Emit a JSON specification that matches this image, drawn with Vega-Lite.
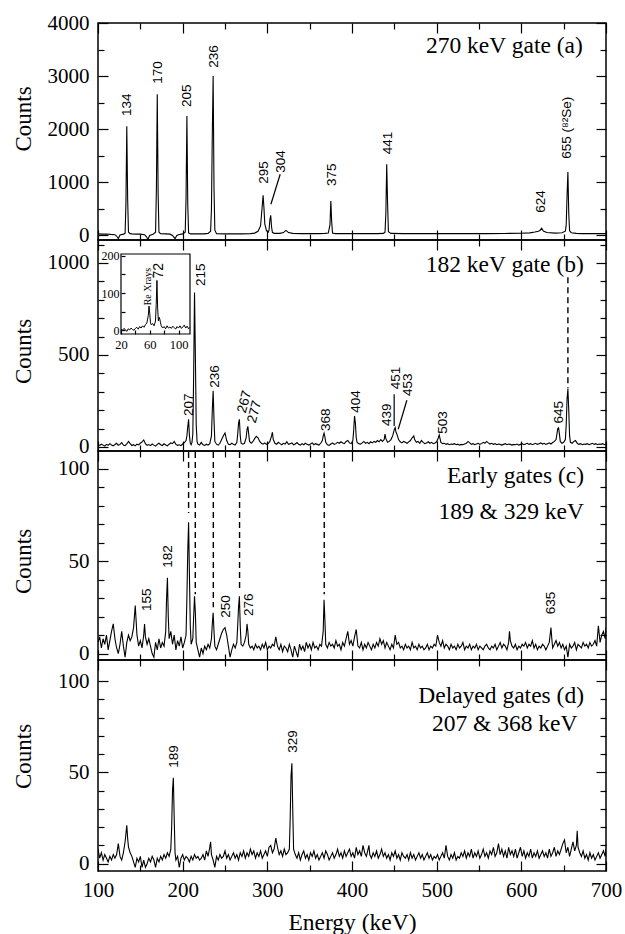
{
"$schema": "https://vega.github.io/schema/vega-lite/v6.json",
"background": "white",
"padding": {"left": 11, "top": 11, "right": 5, "bottom": 2},
"spacing": 0,
"bounds": "flush",
"config": {
  "font": "Liberation Serif, Times New Roman, serif",
  "view": {"stroke": "black", "strokeWidth": 1.5},
  "axis": {"grid": false, "domain": false, "format": "d", "labelFont": "Liberation Serif, Times New Roman, serif", "labelFontSize": 21, "labelColor": "black", "titleFont": "Liberation Serif, Times New Roman, serif", "titleFontSize": 23, "titleFontWeight": "normal", "titleColor": "black", "tickColor": "black", "tickWidth": 1.2, "labelFlush": false, "labelOverlap": false},
  "text": {"color": "black"},
  "line": {"color": "black"},
  "rule": {"color": "black"}
},
"datasets": {
  "a": [{"e":100,"c":30},{"e":105,"c":25},{"e":110,"c":28},{"e":115,"c":20},{"e":120,"c":15},{"e":122,"c":-10},{"e":124,"c":-60},{"e":126,"c":10},{"e":130,"c":25},{"e":132,"c":40},{"e":133,"c":600},{"e":134,"c":2055},{"e":135,"c":700},{"e":136,"c":60},{"e":138,"c":35},{"e":140,"c":30},{"e":145,"c":25},{"e":150,"c":25},{"e":155,"c":15},{"e":157,"c":-20},{"e":159,"c":-70},{"e":161,"c":0},{"e":165,"c":25},{"e":168,"c":60},{"e":169,"c":900},{"e":170,"c":2660},{"e":171,"c":800},{"e":172,"c":60},{"e":174,"c":35},{"e":180,"c":30},{"e":185,"c":25},{"e":188,"c":0},{"e":191,"c":-60},{"e":193,"c":0},{"e":196,"c":20},{"e":200,"c":30},{"e":203,"c":60},{"e":204,"c":700},{"e":205,"c":2250},{"e":206,"c":600},{"e":207,"c":50},{"e":209,"c":30},{"e":215,"c":30},{"e":220,"c":30},{"e":225,"c":30},{"e":230,"c":40},{"e":233,"c":80},{"e":234,"c":500},{"e":235,"c":1900},{"e":236,"c":3000},{"e":237,"c":900},{"e":238,"c":100},{"e":240,"c":35},{"e":250,"c":30},{"e":260,"c":30},{"e":270,"c":30},{"e":280,"c":35},{"e":285,"c":45},{"e":289,"c":80},{"e":292,"c":180},{"e":294,"c":560},{"e":295,"c":757},{"e":296,"c":520},{"e":297,"c":220},{"e":299,"c":90},{"e":301,"c":60},{"e":302,"c":100},{"e":303,"c":290},{"e":304,"c":380},{"e":305,"c":160},{"e":306,"c":60},{"e":308,"c":40},{"e":315,"c":40},{"e":319,"c":55},{"e":322,"c":95},{"e":325,"c":55},{"e":330,"c":40},{"e":340,"c":35},{"e":350,"c":35},{"e":360,"c":35},{"e":368,"c":40},{"e":372,"c":45},{"e":374,"c":200},{"e":375,"c":649},{"e":376,"c":260},{"e":377,"c":45},{"e":380,"c":35},{"e":390,"c":35},{"e":400,"c":35},{"e":410,"c":35},{"e":420,"c":35},{"e":430,"c":35},{"e":437,"c":40},{"e":439,"c":60},{"e":440,"c":420},{"e":441,"c":1340},{"e":442,"c":620},{"e":443,"c":70},{"e":446,"c":40},{"e":460,"c":35},{"e":480,"c":35},{"e":500,"c":35},{"e":520,"c":35},{"e":540,"c":35},{"e":560,"c":35},{"e":580,"c":38},{"e":600,"c":42},{"e":610,"c":50},{"e":616,"c":65},{"e":620,"c":80},{"e":622,"c":95},{"e":624,"c":135},{"e":626,"c":85},{"e":630,"c":55},{"e":640,"c":45},{"e":648,"c":50},{"e":652,"c":80},{"e":653,"c":200},{"e":654,"c":750},{"e":655,"c":1195},{"e":656,"c":420},{"e":657,"c":90},{"e":659,"c":50},{"e":665,"c":40},{"e":670,"c":35},{"e":680,"c":35},{"e":690,"c":35},{"e":700,"c":35}],
  "labA": [{"e":134.2,"c":2249,"t":"134"},{"e":170.5,"c":2857,"t":"170"},{"e":205,"c":2419,"t":"205"},{"e":236.6,"c":3159,"t":"236"},{"e":296.4,"c":975,"t":"295"},{"e":316,"c":1182,"t":"304"},{"e":375.9,"c":932,"t":"375"},{"e":442,"c":1528,"t":"441"},{"e":623.8,"c":429,"t":"624"},{"e":654.5,"c":1446,"t":"655 (⁸²Se)"}],
  "ruleA": [{"e":315.2,"c":1152,"e2":304.2,"c2":587}],
  "b": [{"e":100,"c":12},{"e":102,"c":8},{"e":104,"c":15},{"e":106,"c":10},{"e":108,"c":5},{"e":110,"c":14},{"e":112,"c":9},{"e":114,"c":18},{"e":116,"c":11},{"e":118,"c":6},{"e":120,"c":13},{"e":122,"c":20},{"e":124,"c":9},{"e":126,"c":14},{"e":128,"c":24},{"e":130,"c":10},{"e":132,"c":7},{"e":134,"c":16},{"e":136,"c":30},{"e":138,"c":18},{"e":140,"c":8},{"e":142,"c":12},{"e":144,"c":6},{"e":146,"c":15},{"e":148,"c":11},{"e":150,"c":20},{"e":152,"c":28},{"e":154,"c":38},{"e":156,"c":18},{"e":158,"c":9},{"e":160,"c":13},{"e":162,"c":7},{"e":164,"c":16},{"e":166,"c":10},{"e":168,"c":5},{"e":170,"c":14},{"e":172,"c":20},{"e":174,"c":12},{"e":176,"c":8},{"e":178,"c":17},{"e":180,"c":11},{"e":182,"c":6},{"e":184,"c":15},{"e":186,"c":22},{"e":188,"c":18},{"e":190,"c":30},{"e":192,"c":14},{"e":194,"c":9},{"e":196,"c":12},{"e":198,"c":7},{"e":200,"c":16},{"e":202,"c":24},{"e":204,"c":35},{"e":205,"c":60},{"e":206,"c":110},{"e":207,"c":150},{"e":208,"c":60},{"e":209,"c":20},{"e":210,"c":12},{"e":211,"c":25},{"e":212,"c":70},{"e":213,"c":400},{"e":214,"c":840},{"e":215,"c":500},{"e":216,"c":120},{"e":217,"c":30},{"e":218,"c":15},{"e":220,"c":10},{"e":222,"c":25},{"e":224,"c":12},{"e":226,"c":8},{"e":228,"c":15},{"e":230,"c":10},{"e":232,"c":18},{"e":234,"c":60},{"e":235,"c":200},{"e":236,"c":305},{"e":237,"c":150},{"e":238,"c":30},{"e":240,"c":15},{"e":242,"c":10},{"e":244,"c":20},{"e":246,"c":40},{"e":248,"c":60},{"e":250,"c":76},{"e":252,"c":35},{"e":254,"c":15},{"e":256,"c":12},{"e":258,"c":20},{"e":260,"c":14},{"e":262,"c":10},{"e":264,"c":25},{"e":265,"c":70},{"e":266,"c":130},{"e":267,"c":150},{"e":268,"c":60},{"e":269,"c":20},{"e":271,"c":15},{"e":273,"c":20},{"e":275,"c":50},{"e":276,"c":95},{"e":277,"c":112},{"e":278,"c":70},{"e":279,"c":30},{"e":281,"c":20},{"e":283,"c":30},{"e":285,"c":45},{"e":287,"c":58},{"e":289,"c":50},{"e":291,"c":30},{"e":293,"c":20},{"e":295,"c":15},{"e":297,"c":22},{"e":299,"c":14},{"e":301,"c":18},{"e":303,"c":30},{"e":305,"c":60},{"e":306,"c":80},{"e":307,"c":40},{"e":309,"c":20},{"e":311,"c":15},{"e":313,"c":25},{"e":315,"c":18},{"e":317,"c":12},{"e":319,"c":20},{"e":321,"c":16},{"e":323,"c":28},{"e":325,"c":14},{"e":327,"c":18},{"e":329,"c":22},{"e":331,"c":12},{"e":333,"c":16},{"e":335,"c":24},{"e":337,"c":14},{"e":339,"c":10},{"e":341,"c":18},{"e":343,"c":12},{"e":345,"c":20},{"e":347,"c":14},{"e":349,"c":10},{"e":351,"c":16},{"e":353,"c":22},{"e":355,"c":12},{"e":357,"c":18},{"e":359,"c":14},{"e":361,"c":10},{"e":363,"c":20},{"e":365,"c":35},{"e":366,"c":60},{"e":367,"c":75},{"e":368,"c":55},{"e":369,"c":25},{"e":371,"c":12},{"e":373,"c":8},{"e":375,"c":16},{"e":377,"c":22},{"e":379,"c":14},{"e":381,"c":18},{"e":383,"c":25},{"e":385,"c":20},{"e":387,"c":28},{"e":389,"c":22},{"e":391,"c":18},{"e":393,"c":30},{"e":395,"c":35},{"e":397,"c":22},{"e":399,"c":18},{"e":401,"c":35},{"e":402,"c":90},{"e":403,"c":168},{"e":404,"c":130},{"e":405,"c":50},{"e":406,"c":25},{"e":408,"c":18},{"e":410,"c":15},{"e":412,"c":22},{"e":414,"c":30},{"e":416,"c":20},{"e":418,"c":25},{"e":420,"c":18},{"e":422,"c":28},{"e":424,"c":22},{"e":426,"c":30},{"e":428,"c":25},{"e":430,"c":35},{"e":432,"c":28},{"e":434,"c":40},{"e":436,"c":30},{"e":438,"c":40},{"e":439,"c":70},{"e":440,"c":45},{"e":442,"c":25},{"e":444,"c":30},{"e":446,"c":40},{"e":448,"c":60},{"e":450,"c":95},{"e":451,"c":105},{"e":452,"c":80},{"e":453,"c":70},{"e":454,"c":55},{"e":455,"c":40},{"e":457,"c":28},{"e":459,"c":22},{"e":461,"c":30},{"e":463,"c":25},{"e":465,"c":20},{"e":467,"c":28},{"e":469,"c":35},{"e":471,"c":50},{"e":473,"c":60},{"e":474,"c":40},{"e":476,"c":25},{"e":478,"c":30},{"e":480,"c":20},{"e":482,"c":35},{"e":484,"c":25},{"e":486,"c":18},{"e":488,"c":22},{"e":490,"c":28},{"e":492,"c":20},{"e":494,"c":25},{"e":496,"c":18},{"e":498,"c":22},{"e":500,"c":28},{"e":502,"c":50},{"e":503,"c":65},{"e":504,"c":45},{"e":505,"c":25},{"e":507,"c":18},{"e":509,"c":20},{"e":511,"c":14},{"e":513,"c":18},{"e":515,"c":12},{"e":517,"c":16},{"e":519,"c":14},{"e":521,"c":18},{"e":523,"c":12},{"e":525,"c":15},{"e":527,"c":10},{"e":529,"c":14},{"e":531,"c":12},{"e":533,"c":16},{"e":535,"c":20},{"e":537,"c":30},{"e":539,"c":22},{"e":541,"c":14},{"e":543,"c":18},{"e":545,"c":12},{"e":547,"c":16},{"e":549,"c":20},{"e":551,"c":14},{"e":553,"c":18},{"e":555,"c":25},{"e":557,"c":20},{"e":559,"c":30},{"e":561,"c":22},{"e":563,"c":16},{"e":565,"c":20},{"e":567,"c":14},{"e":569,"c":18},{"e":571,"c":12},{"e":573,"c":16},{"e":575,"c":14},{"e":577,"c":10},{"e":579,"c":14},{"e":581,"c":18},{"e":583,"c":12},{"e":585,"c":16},{"e":587,"c":14},{"e":589,"c":10},{"e":591,"c":14},{"e":593,"c":12},{"e":595,"c":16},{"e":597,"c":10},{"e":599,"c":14},{"e":601,"c":18},{"e":603,"c":12},{"e":605,"c":16},{"e":607,"c":20},{"e":609,"c":14},{"e":611,"c":18},{"e":613,"c":12},{"e":615,"c":16},{"e":617,"c":20},{"e":619,"c":14},{"e":621,"c":18},{"e":623,"c":22},{"e":625,"c":16},{"e":627,"c":20},{"e":629,"c":14},{"e":631,"c":18},{"e":633,"c":22},{"e":635,"c":16},{"e":637,"c":24},{"e":639,"c":30},{"e":641,"c":40},{"e":642,"c":70},{"e":643,"c":100},{"e":644,"c":104},{"e":645,"c":70},{"e":646,"c":30},{"e":648,"c":20},{"e":650,"c":25},{"e":652,"c":40},{"e":653,"c":120},{"e":654,"c":260},{"e":655,"c":315},{"e":656,"c":200},{"e":657,"c":60},{"e":658,"c":25},{"e":660,"c":20},{"e":662,"c":30},{"e":664,"c":35},{"e":666,"c":20},{"e":668,"c":14},{"e":670,"c":18},{"e":672,"c":12},{"e":674,"c":16},{"e":676,"c":14},{"e":678,"c":18},{"e":680,"c":12},{"e":682,"c":16},{"e":684,"c":20},{"e":686,"c":14},{"e":688,"c":18},{"e":690,"c":12},{"e":692,"c":16},{"e":694,"c":14},{"e":696,"c":18},{"e":698,"c":12},{"e":700,"c":16}],
  "labB": [{"e":207,"c":168,"t":"207"},{"e":221.6,"c":875,"t":"215"},{"e":238.5,"c":322,"t":"236"},{"e":369,"c":87,"t":"368"},{"e":404.6,"c":186,"t":"404"},{"e":441.2,"c":114,"t":"439"},{"e":451.8,"c":313,"t":"451"},{"e":466.3,"c":277,"t":"453"},{"e":507,"c":72,"t":"503"},{"e":644.6,"c":127,"t":"645"}],
  "labB2": [{"e":269.6,"c":186,"t":"267"},{"e":281.4,"c":132,"t":"277"}],
  "ruleB": [{"e":449.8,"c":286,"e2":449.8,"c2":114},{"e":464.8,"c":254,"e2":454.6,"c2":96}],
  "dashB": [{"e":655,"c":922,"c2":318}],
  "ins": [{"e":20,"c":3},{"e":22,"c":0},{"e":24,"c":5},{"e":26,"c":2},{"e":28,"c":-3},{"e":30,"c":4},{"e":32,"c":1},{"e":34,"c":6},{"e":36,"c":2},{"e":38,"c":0},{"e":40,"c":5},{"e":42,"c":8},{"e":44,"c":3},{"e":46,"c":10},{"e":48,"c":6},{"e":50,"c":12},{"e":52,"c":8},{"e":54,"c":15},{"e":56,"c":20},{"e":57,"c":30},{"e":58,"c":40},{"e":59,"c":65},{"e":60,"c":45},{"e":61,"c":20},{"e":62,"c":15},{"e":64,"c":18},{"e":66,"c":12},{"e":68,"c":25},{"e":69,"c":70},{"e":70,"c":134},{"e":71,"c":60},{"e":72,"c":25},{"e":73,"c":35},{"e":74,"c":30},{"e":75,"c":20},{"e":76,"c":12},{"e":78,"c":6},{"e":80,"c":10},{"e":82,"c":4},{"e":84,"c":12},{"e":86,"c":6},{"e":88,"c":9},{"e":90,"c":5},{"e":92,"c":11},{"e":94,"c":7},{"e":96,"c":3},{"e":98,"c":10},{"e":100,"c":6},{"e":102,"c":12},{"e":104,"c":5},{"e":106,"c":9},{"e":108,"c":14},{"e":110,"c":6},{"e":112,"c":11},{"e":114,"c":4},{"e":116,"c":8}],
  "c": [{"e":100,"c":6},{"e":102,"c":9},{"e":104,"c":3},{"e":106,"c":8},{"e":108,"c":5},{"e":110,"c":10},{"e":112,"c":2},{"e":114,"c":7},{"e":116,"c":12},{"e":118,"c":16},{"e":120,"c":8},{"e":122,"c":3},{"e":124,"c":0},{"e":126,"c":5},{"e":128,"c":12},{"e":130,"c":4},{"e":132,"c":-2},{"e":134,"c":6},{"e":136,"c":10},{"e":138,"c":7},{"e":140,"c":9},{"e":142,"c":14},{"e":144,"c":26},{"e":146,"c":10},{"e":148,"c":4},{"e":150,"c":7},{"e":152,"c":3},{"e":154,"c":10},{"e":155,"c":16},{"e":156,"c":9},{"e":158,"c":5},{"e":160,"c":8},{"e":162,"c":4},{"e":164,"c":0},{"e":166,"c":-2},{"e":168,"c":6},{"e":170,"c":2},{"e":172,"c":8},{"e":174,"c":3},{"e":176,"c":6},{"e":178,"c":4},{"e":180,"c":12},{"e":181,"c":30},{"e":182,"c":41},{"e":183,"c":20},{"e":184,"c":8},{"e":186,"c":12},{"e":188,"c":5},{"e":190,"c":10},{"e":192,"c":2},{"e":194,"c":7},{"e":196,"c":4},{"e":198,"c":9},{"e":200,"c":3},{"e":202,"c":6},{"e":204,"c":10},{"e":205,"c":30},{"e":206,"c":55},{"e":207,"c":71},{"e":208,"c":42},{"e":209,"c":15},{"e":210,"c":5},{"e":212,"c":8},{"e":213,"c":20},{"e":214,"c":31},{"e":215,"c":22},{"e":216,"c":6},{"e":218,"c":2},{"e":220,"c":-2},{"e":222,"c":3},{"e":224,"c":0},{"e":226,"c":4},{"e":228,"c":2},{"e":230,"c":5},{"e":232,"c":3},{"e":234,"c":8},{"e":235,"c":16},{"e":236,"c":22},{"e":237,"c":12},{"e":238,"c":4},{"e":240,"c":2},{"e":242,"c":5},{"e":244,"c":8},{"e":246,"c":11},{"e":248,"c":13},{"e":250,"c":14},{"e":252,"c":10},{"e":254,"c":4},{"e":256,"c":-2},{"e":258,"c":2},{"e":260,"c":5},{"e":262,"c":3},{"e":264,"c":6},{"e":265,"c":15},{"e":266,"c":25},{"e":267,"c":31},{"e":268,"c":15},{"e":269,"c":5},{"e":271,"c":4},{"e":273,"c":6},{"e":275,"c":10},{"e":276,"c":16},{"e":277,"c":12},{"e":278,"c":5},{"e":280,"c":3},{"e":282,"c":4},{"e":284,"c":2},{"e":286,"c":5},{"e":288,"c":3},{"e":290,"c":4},{"e":292,"c":2},{"e":294,"c":5},{"e":296,"c":3},{"e":298,"c":6},{"e":300,"c":2},{"e":302,"c":4},{"e":304,"c":3},{"e":306,"c":5},{"e":308,"c":4},{"e":310,"c":9},{"e":312,"c":4},{"e":314,"c":2},{"e":316,"c":5},{"e":318,"c":1},{"e":320,"c":4},{"e":322,"c":3},{"e":324,"c":1},{"e":326,"c":5},{"e":328,"c":2},{"e":330,"c":-2},{"e":332,"c":4},{"e":334,"c":1},{"e":336,"c":-2},{"e":338,"c":5},{"e":340,"c":2},{"e":342,"c":4},{"e":344,"c":1},{"e":346,"c":6},{"e":348,"c":3},{"e":350,"c":5},{"e":352,"c":2},{"e":354,"c":6},{"e":356,"c":3},{"e":358,"c":4},{"e":360,"c":2},{"e":362,"c":5},{"e":364,"c":4},{"e":366,"c":12},{"e":367,"c":29},{"e":368,"c":18},{"e":369,"c":5},{"e":371,"c":3},{"e":373,"c":6},{"e":375,"c":4},{"e":377,"c":5},{"e":379,"c":3},{"e":381,"c":7},{"e":383,"c":4},{"e":385,"c":5},{"e":387,"c":2},{"e":389,"c":6},{"e":391,"c":4},{"e":393,"c":8},{"e":395,"c":12},{"e":397,"c":5},{"e":399,"c":7},{"e":401,"c":4},{"e":403,"c":9},{"e":405,"c":13},{"e":407,"c":4},{"e":409,"c":3},{"e":411,"c":6},{"e":413,"c":2},{"e":415,"c":5},{"e":417,"c":3},{"e":419,"c":6},{"e":421,"c":4},{"e":423,"c":2},{"e":425,"c":5},{"e":427,"c":3},{"e":429,"c":6},{"e":431,"c":4},{"e":433,"c":8},{"e":435,"c":5},{"e":437,"c":7},{"e":439,"c":3},{"e":441,"c":6},{"e":443,"c":4},{"e":445,"c":2},{"e":447,"c":5},{"e":449,"c":3},{"e":451,"c":10},{"e":453,"c":5},{"e":455,"c":6},{"e":457,"c":3},{"e":459,"c":4},{"e":461,"c":2},{"e":463,"c":5},{"e":465,"c":3},{"e":467,"c":4},{"e":469,"c":2},{"e":471,"c":6},{"e":473,"c":3},{"e":475,"c":4},{"e":477,"c":2},{"e":479,"c":5},{"e":481,"c":3},{"e":483,"c":4},{"e":485,"c":2},{"e":487,"c":3},{"e":489,"c":5},{"e":491,"c":2},{"e":493,"c":4},{"e":495,"c":3},{"e":497,"c":5},{"e":499,"c":4},{"e":501,"c":10},{"e":503,"c":6},{"e":505,"c":4},{"e":507,"c":7},{"e":509,"c":3},{"e":511,"c":5},{"e":513,"c":4},{"e":515,"c":2},{"e":517,"c":5},{"e":519,"c":3},{"e":521,"c":4},{"e":523,"c":2},{"e":525,"c":5},{"e":527,"c":3},{"e":529,"c":4},{"e":531,"c":6},{"e":533,"c":2},{"e":535,"c":4},{"e":537,"c":3},{"e":539,"c":5},{"e":541,"c":2},{"e":543,"c":4},{"e":545,"c":3},{"e":547,"c":5},{"e":549,"c":2},{"e":551,"c":4},{"e":553,"c":3},{"e":555,"c":2},{"e":557,"c":4},{"e":559,"c":5},{"e":561,"c":3},{"e":563,"c":2},{"e":565,"c":4},{"e":567,"c":3},{"e":569,"c":5},{"e":571,"c":2},{"e":573,"c":4},{"e":575,"c":6},{"e":577,"c":3},{"e":579,"c":5},{"e":581,"c":4},{"e":583,"c":2},{"e":585,"c":6},{"e":586,"c":12},{"e":587,"c":7},{"e":589,"c":4},{"e":591,"c":3},{"e":593,"c":5},{"e":595,"c":2},{"e":597,"c":4},{"e":599,"c":3},{"e":601,"c":5},{"e":603,"c":4},{"e":605,"c":6},{"e":607,"c":3},{"e":609,"c":5},{"e":611,"c":4},{"e":613,"c":7},{"e":615,"c":3},{"e":617,"c":5},{"e":619,"c":2},{"e":621,"c":4},{"e":623,"c":3},{"e":625,"c":5},{"e":627,"c":4},{"e":629,"c":2},{"e":631,"c":4},{"e":633,"c":6},{"e":635,"c":14},{"e":636,"c":8},{"e":637,"c":3},{"e":639,"c":5},{"e":641,"c":7},{"e":643,"c":4},{"e":645,"c":6},{"e":647,"c":3},{"e":649,"c":5},{"e":651,"c":2},{"e":653,"c":4},{"e":655,"c":-2},{"e":657,"c":5},{"e":659,"c":3},{"e":661,"c":4},{"e":663,"c":6},{"e":665,"c":2},{"e":667,"c":5},{"e":669,"c":4},{"e":671,"c":3},{"e":673,"c":6},{"e":675,"c":4},{"e":677,"c":5},{"e":679,"c":3},{"e":681,"c":6},{"e":683,"c":4},{"e":685,"c":5},{"e":687,"c":7},{"e":689,"c":4},{"e":691,"c":15},{"e":693,"c":6},{"e":695,"c":10},{"e":697,"c":12},{"e":699,"c":8},{"e":700,"c":14}],
  "labC": [{"e":158,"c":23,"t":"155"},{"e":182.2,"c":46.4,"t":"182"},{"e":251,"c":19.4,"t":"250"},{"e":278.6,"c":20.3,"t":"276"},{"e":635.6,"c":21.2,"t":"635"}],
  "dashC": [{"e":207,"c":109,"c2":76},{"e":214.9,"c":109,"c2":32},{"e":236.2,"c":109,"c2":25},{"e":267.2,"c":109,"c2":34},{"e":367.2,"c":109,"c2":32}],
  "d": [{"e":100,"c":8},{"e":102,"c":3},{"e":104,"c":6},{"e":106,"c":2},{"e":108,"c":5},{"e":110,"c":3},{"e":112,"c":1},{"e":114,"c":4},{"e":116,"c":2},{"e":118,"c":5},{"e":120,"c":3},{"e":122,"c":5},{"e":124,"c":11},{"e":126,"c":4},{"e":128,"c":2},{"e":130,"c":6},{"e":132,"c":12},{"e":134,"c":21},{"e":135,"c":14},{"e":136,"c":9},{"e":138,"c":6},{"e":140,"c":4},{"e":142,"c":1},{"e":144,"c":-2},{"e":146,"c":3},{"e":148,"c":1},{"e":150,"c":4},{"e":152,"c":-2},{"e":154,"c":2},{"e":156,"c":-2},{"e":158,"c":0},{"e":160,"c":3},{"e":162,"c":1},{"e":164,"c":4},{"e":166,"c":2},{"e":168,"c":-2},{"e":170,"c":3},{"e":172,"c":1},{"e":174,"c":4},{"e":176,"c":2},{"e":178,"c":5},{"e":180,"c":3},{"e":182,"c":6},{"e":184,"c":4},{"e":186,"c":8},{"e":187,"c":20},{"e":188,"c":40},{"e":189,"c":47},{"e":190,"c":25},{"e":191,"c":6},{"e":192,"c":2},{"e":194,"c":4},{"e":196,"c":-2},{"e":198,"c":3},{"e":200,"c":5},{"e":202,"c":2},{"e":204,"c":4},{"e":206,"c":3},{"e":208,"c":1},{"e":210,"c":4},{"e":212,"c":2},{"e":214,"c":5},{"e":216,"c":3},{"e":218,"c":4},{"e":220,"c":2},{"e":222,"c":3},{"e":224,"c":5},{"e":226,"c":2},{"e":228,"c":7},{"e":230,"c":4},{"e":232,"c":9},{"e":233,"c":12},{"e":234,"c":5},{"e":236,"c":2},{"e":238,"c":-2},{"e":240,"c":4},{"e":242,"c":2},{"e":244,"c":5},{"e":246,"c":3},{"e":248,"c":4},{"e":250,"c":7},{"e":252,"c":3},{"e":254,"c":5},{"e":256,"c":2},{"e":258,"c":4},{"e":260,"c":6},{"e":262,"c":3},{"e":264,"c":5},{"e":266,"c":2},{"e":268,"c":6},{"e":270,"c":4},{"e":272,"c":7},{"e":274,"c":3},{"e":276,"c":6},{"e":278,"c":4},{"e":280,"c":8},{"e":282,"c":5},{"e":284,"c":7},{"e":286,"c":3},{"e":288,"c":6},{"e":290,"c":4},{"e":292,"c":7},{"e":294,"c":3},{"e":296,"c":5},{"e":298,"c":7},{"e":300,"c":4},{"e":302,"c":9},{"e":304,"c":10},{"e":306,"c":6},{"e":308,"c":8},{"e":310,"c":14},{"e":312,"c":9},{"e":314,"c":5},{"e":316,"c":7},{"e":318,"c":4},{"e":320,"c":8},{"e":322,"c":5},{"e":324,"c":6},{"e":326,"c":8},{"e":327,"c":25},{"e":328,"c":48},{"e":329,"c":55},{"e":330,"c":30},{"e":331,"c":8},{"e":333,"c":5},{"e":335,"c":3},{"e":337,"c":6},{"e":339,"c":2},{"e":341,"c":5},{"e":343,"c":7},{"e":345,"c":3},{"e":347,"c":5},{"e":349,"c":2},{"e":351,"c":6},{"e":353,"c":4},{"e":355,"c":7},{"e":357,"c":3},{"e":359,"c":5},{"e":361,"c":2},{"e":363,"c":4},{"e":365,"c":6},{"e":367,"c":3},{"e":369,"c":7},{"e":371,"c":5},{"e":373,"c":2},{"e":375,"c":4},{"e":377,"c":6},{"e":379,"c":3},{"e":381,"c":5},{"e":383,"c":8},{"e":385,"c":4},{"e":387,"c":6},{"e":389,"c":3},{"e":391,"c":7},{"e":393,"c":4},{"e":395,"c":6},{"e":397,"c":8},{"e":399,"c":4},{"e":401,"c":6},{"e":403,"c":3},{"e":405,"c":9},{"e":407,"c":5},{"e":409,"c":7},{"e":411,"c":4},{"e":413,"c":10},{"e":415,"c":6},{"e":417,"c":4},{"e":419,"c":8},{"e":420,"c":10},{"e":421,"c":5},{"e":423,"c":3},{"e":425,"c":6},{"e":427,"c":4},{"e":429,"c":7},{"e":431,"c":3},{"e":433,"c":5},{"e":435,"c":8},{"e":437,"c":4},{"e":439,"c":6},{"e":441,"c":3},{"e":443,"c":5},{"e":445,"c":2},{"e":447,"c":6},{"e":449,"c":4},{"e":451,"c":7},{"e":453,"c":3},{"e":455,"c":5},{"e":457,"c":2},{"e":459,"c":6},{"e":461,"c":4},{"e":463,"c":3},{"e":465,"c":5},{"e":467,"c":2},{"e":469,"c":6},{"e":471,"c":3},{"e":473,"c":5},{"e":475,"c":2},{"e":477,"c":4},{"e":479,"c":6},{"e":481,"c":3},{"e":483,"c":5},{"e":485,"c":2},{"e":487,"c":4},{"e":489,"c":6},{"e":491,"c":3},{"e":493,"c":5},{"e":495,"c":2},{"e":497,"c":4},{"e":499,"c":3},{"e":501,"c":5},{"e":503,"c":2},{"e":505,"c":4},{"e":507,"c":6},{"e":509,"c":3},{"e":511,"c":10},{"e":513,"c":4},{"e":515,"c":2},{"e":517,"c":5},{"e":519,"c":3},{"e":521,"c":6},{"e":523,"c":2},{"e":525,"c":4},{"e":527,"c":3},{"e":529,"c":6},{"e":531,"c":4},{"e":533,"c":7},{"e":535,"c":3},{"e":537,"c":6},{"e":539,"c":4},{"e":541,"c":8},{"e":543,"c":3},{"e":545,"c":6},{"e":547,"c":4},{"e":549,"c":7},{"e":551,"c":3},{"e":553,"c":5},{"e":555,"c":8},{"e":557,"c":4},{"e":559,"c":6},{"e":561,"c":3},{"e":563,"c":7},{"e":565,"c":5},{"e":567,"c":9},{"e":569,"c":4},{"e":571,"c":6},{"e":573,"c":11},{"e":575,"c":5},{"e":577,"c":8},{"e":579,"c":4},{"e":581,"c":7},{"e":583,"c":3},{"e":585,"c":9},{"e":587,"c":5},{"e":589,"c":7},{"e":591,"c":4},{"e":593,"c":8},{"e":595,"c":3},{"e":597,"c":6},{"e":599,"c":9},{"e":601,"c":4},{"e":603,"c":7},{"e":605,"c":3},{"e":607,"c":6},{"e":609,"c":4},{"e":611,"c":8},{"e":613,"c":3},{"e":615,"c":6},{"e":617,"c":4},{"e":619,"c":7},{"e":621,"c":3},{"e":623,"c":5},{"e":625,"c":7},{"e":627,"c":4},{"e":629,"c":6},{"e":631,"c":3},{"e":633,"c":8},{"e":635,"c":4},{"e":637,"c":6},{"e":639,"c":9},{"e":641,"c":4},{"e":643,"c":7},{"e":645,"c":5},{"e":647,"c":8},{"e":649,"c":11},{"e":651,"c":13},{"e":653,"c":6},{"e":655,"c":9},{"e":657,"c":4},{"e":659,"c":8},{"e":661,"c":12},{"e":663,"c":7},{"e":665,"c":10},{"e":666,"c":18},{"e":667,"c":9},{"e":669,"c":6},{"e":671,"c":4},{"e":673,"c":7},{"e":675,"c":3},{"e":677,"c":5},{"e":679,"c":2},{"e":681,"c":6},{"e":683,"c":3},{"e":685,"c":5},{"e":687,"c":2},{"e":689,"c":4},{"e":691,"c":6},{"e":693,"c":3},{"e":695,"c":5},{"e":697,"c":7},{"e":699,"c":4},{"e":700,"c":8}],
  "labD": [{"e":190,"c":52.5,"t":"189"},{"e":329.9,"c":60.7,"t":"329"}]
},
"vconcat": [
  {
    "width": 508, "height": 217,
    "resolve": {"axis": {"x": "independent", "y": "independent"}},
    "layer": [
      {"data": {"name": "a"}, "mark": {"type": "line", "strokeWidth": 1.1, "clip": true},
       "encoding": {
         "x": {"field": "e", "type": "quantitative", "scale": {"domain": [100,700], "nice": false, "zero": false}, "axis": {"orient": "bottom", "values": [100,200,300,400,500,600,700], "tickSize": -10, "labels": false, "title": null}},
         "y": {"field": "c", "type": "quantitative", "scale": {"domain": [-85,4000], "nice": false, "zero": false}, "axis": {"orient": "left", "values": [0,1000,2000,3000,4000], "tickSize": -10, "labelPadding": 19, "title": "Counts", "titleX": -74.5, "titleY": 95.5, "titleBaseline": "middle"}}
       }},
      {"data": {"name": "labA"}, "mark": {"type": "text", "angle": 270, "align": "left", "baseline": "middle", "font": "Liberation Sans", "fontSize": 13.5},
       "encoding": {
         "x": {"field": "e", "type": "quantitative", "scale": {"domain": [100,700], "nice": false, "zero": false}, "axis": {"orient": "bottom", "values": [150,250,350,450,550,650], "tickSize": -6, "labels": false, "title": null}},
         "y": {"field": "c", "type": "quantitative", "scale": {"domain": [-85,4000], "nice": false, "zero": false}, "axis": {"orient": "left", "values": [500,1500,2500,3500], "tickSize": -6, "labels": false, "title": null}},
         "text": {"field": "t"}
       }},
      {"data": {"name": "ruleA"}, "mark": {"type": "rule", "strokeWidth": 1.2},
       "encoding": {
         "x": {"field": "e", "type": "quantitative", "scale": {"domain": [100,700], "nice": false, "zero": false}, "axis": {"orient": "top", "values": [100,200,300,400,500,600,700], "tickSize": -10, "labels": false, "title": null}},
         "y": {"field": "c", "type": "quantitative", "scale": {"domain": [-85,4000], "nice": false, "zero": false}, "axis": {"orient": "right", "values": [0,1000,2000,3000,4000], "tickSize": -10, "labels": false, "title": null}},
         "x2": {"field": "e2"}, "y2": {"field": "c2"}
       }},
      {"data": {"values": [{}]}, "mark": {"type": "text", "align": "right", "baseline": "alphabetic", "font": "Liberation Serif, Times New Roman, serif", "fontSize": 23.5},
       "encoding": {
         "x": {"datum": 672.6, "type": "quantitative", "scale": {"domain": [100,700], "nice": false, "zero": false}, "axis": {"orient": "top", "values": [150,250,350,450,550,650], "tickSize": -6, "labels": false, "title": null}},
         "y": {"datum": 3435, "type": "quantitative", "scale": {"domain": [-85,4000], "nice": false, "zero": false}, "axis": {"orient": "right", "values": [500,1500,2500,3500], "tickSize": -6, "labels": false, "title": null}},
         "text": {"value": "270 keV gate (a)"}
       }}
    ]
  },
  {
    "width": 508, "height": 211,
    "resolve": {"scale": {"x": "independent", "y": "independent"}, "axis": {"x": "independent", "y": "independent"}},
    "layer": [
      {"data": {"name": "b"}, "mark": {"type": "line", "strokeWidth": 1.1, "clip": true},
       "encoding": {
         "x": {"field": "e", "type": "quantitative", "scale": {"domain": [100,700], "nice": false, "zero": false}, "axis": {"orient": "bottom", "values": [100,200,300,400,500,600,700], "tickSize": -10, "labels": false, "title": null}},
         "y": {"field": "c", "type": "quantitative", "scale": {"domain": [-22,1125], "nice": false, "zero": false}, "axis": {"orient": "left", "values": [0,500,1000], "tickSize": -10, "labelPadding": 19, "title": "Counts", "titleX": -74.5, "titleY": 111, "titleBaseline": "middle"}}
       }},
      {"data": {"name": "labB"}, "mark": {"type": "text", "angle": 270, "align": "left", "baseline": "middle", "font": "Liberation Sans", "fontSize": 13.5},
       "encoding": {
         "x": {"field": "e", "type": "quantitative", "scale": {"domain": [100,700], "nice": false, "zero": false}, "axis": {"orient": "bottom", "values": [150,250,350,450,550,650], "tickSize": -6, "labels": false, "title": null}},
         "y": {"field": "c", "type": "quantitative", "scale": {"domain": [-22,1125], "nice": false, "zero": false}, "axis": {"orient": "left", "values": [100,200,300,400,600,700,800,900,1100], "tickSize": -6, "labels": false, "title": null}},
         "text": {"field": "t"}
       }},
      {"data": {"name": "labB2"}, "mark": {"type": "text", "angle": 285, "align": "left", "baseline": "middle", "font": "Liberation Sans", "fontSize": 13.5},
       "encoding": {
         "x": {"field": "e", "type": "quantitative", "scale": {"domain": [100,700], "nice": false, "zero": false}, "axis": {"orient": "top", "values": [100,200,300,400,500,600,700], "tickSize": -10, "labels": false, "title": null}},
         "y": {"field": "c", "type": "quantitative", "scale": {"domain": [-22,1125], "nice": false, "zero": false}, "axis": {"orient": "right", "values": [0,500,1000], "tickSize": -10, "labels": false, "title": null}},
         "text": {"field": "t"}
       }},
      {"data": {"name": "ruleB"}, "mark": {"type": "rule", "strokeWidth": 1.2},
       "encoding": {
         "x": {"field": "e", "type": "quantitative", "scale": {"domain": [100,700], "nice": false, "zero": false}, "axis": {"orient": "top", "values": [150,250,350,450,550,650], "tickSize": -6, "labels": false, "title": null}},
         "y": {"field": "c", "type": "quantitative", "scale": {"domain": [-22,1125], "nice": false, "zero": false}, "axis": {"orient": "right", "values": [100,200,300,400,600,700,800,900,1100], "tickSize": -6, "labels": false, "title": null}},
         "x2": {"field": "e2"}, "y2": {"field": "c2"}
       }},
      {"data": {"name": "dashB"}, "mark": {"type": "rule", "strokeWidth": 1.4, "strokeDash": [6, 4]},
       "encoding": {
         "x": {"field": "e", "type": "quantitative", "scale": {"domain": [100,700], "nice": false, "zero": false}, "axis": null},
         "y": {"field": "c", "type": "quantitative", "scale": {"domain": [-22,1125], "nice": false, "zero": false}, "axis": null},
         "y2": {"field": "c2"}
       }},
      {"data": {"values": [{}]}, "mark": {"type": "text", "align": "right", "baseline": "alphabetic", "font": "Liberation Serif, Times New Roman, serif", "fontSize": 23.5},
       "encoding": {
         "x": {"datum": 673.8, "type": "quantitative", "scale": {"domain": [100,700], "nice": false, "zero": false}, "axis": null},
         "y": {"datum": 953, "type": "quantitative", "scale": {"domain": [-22,1125], "nice": false, "zero": false}, "axis": null},
         "text": {"value": "182 keV gate (b)"}
       }},
      {"data": {"values": [{}]}, "mark": {"type": "rect", "fill": "transparent", "stroke": "black", "strokeWidth": 1.2},
       "encoding": {
         "x": {"datum": 20, "type": "quantitative", "scale": {"domain": [20,116], "range": [23,92], "nice": false, "zero": false}, "axis": null},
         "x2": {"datum": 116},
         "y": {"datum": -10, "type": "quantitative", "scale": {"domain": [-10,205], "range": [94,14], "nice": false, "zero": false}, "axis": null},
         "y2": {"datum": 205}
       }},
      {"data": {"name": "ins"}, "mark": {"type": "line", "strokeWidth": 1, "clip": false},
       "encoding": {
         "x": {"field": "e", "type": "quantitative", "scale": {"domain": [20,116], "range": [23,92], "nice": false, "zero": false}, "axis": {"orient": "bottom", "offset": -117, "values": [20,40,60,80,100], "tickSize": -4, "labelFontSize": 12.5, "labelPadding": 8, "labelExpr": "datum.value == 40 || datum.value == 80 ? '' : datum.label", "title": null}},
         "y": {"field": "c", "type": "quantitative", "scale": {"domain": [-10,205], "range": [94,14], "nice": false, "zero": false}, "axis": {"orient": "left", "offset": -23, "values": [0,50,100,150,200], "tickSize": -4, "labelFontSize": 12, "labelPadding": 6, "labelBaseline": "middle", "labelExpr": "datum.value % 100 == 0 ? datum.label : ''", "title": null}}
       }},
      {"data": {"values": [{}]}, "mark": {"type": "text", "angle": 270, "align": "left", "baseline": "middle", "font": "Liberation Serif, Times New Roman, serif", "fontSize": 10},
       "encoding": {
         "x": {"datum": 57.1, "type": "quantitative", "scale": {"domain": [20,116], "range": [23,92], "nice": false, "zero": false}, "axis": null},
         "y": {"datum": 67, "type": "quantitative", "scale": {"domain": [-10,205], "range": [94,14], "nice": false, "zero": false}, "axis": null},
         "text": {"value": "Re Xrays"}
       }},
      {"data": {"values": [{}]}, "mark": {"type": "text", "angle": 270, "align": "left", "baseline": "middle", "font": "Liberation Sans", "fontSize": 14},
       "encoding": {
         "x": {"datum": 73.3, "type": "quantitative", "scale": {"domain": [20,116], "range": [23,92], "nice": false, "zero": false}, "axis": null},
         "y": {"datum": 139, "type": "quantitative", "scale": {"domain": [-10,205], "range": [94,14], "nice": false, "zero": false}, "axis": null},
         "text": {"value": "72"}
       }}
    ]
  },
  {
    "width": 508, "height": 209,
    "resolve": {"axis": {"x": "independent", "y": "independent"}},
    "layer": [
      {"data": {"name": "c"}, "mark": {"type": "line", "strokeWidth": 1.1, "clip": true},
       "encoding": {
         "x": {"field": "e", "type": "quantitative", "scale": {"domain": [100,700], "nice": false, "zero": false}, "axis": {"orient": "bottom", "values": [100,200,300,400,500,600,700], "tickSize": -10, "labels": false, "title": null}},
         "y": {"field": "c", "type": "quantitative", "scale": {"domain": [-3.5,109.5], "nice": false, "zero": false}, "axis": {"orient": "left", "values": [0,50,100], "tickSize": -10, "labelPadding": 19, "title": "Counts", "titleX": -74.5, "titleY": 110, "titleBaseline": "middle"}}
       }},
      {"data": {"name": "labC"}, "mark": {"type": "text", "angle": 270, "align": "left", "baseline": "middle", "font": "Liberation Sans", "fontSize": 13.5},
       "encoding": {
         "x": {"field": "e", "type": "quantitative", "scale": {"domain": [100,700], "nice": false, "zero": false}, "axis": {"orient": "bottom", "values": [150,250,350,450,550,650], "tickSize": -6, "labels": false, "title": null}},
         "y": {"field": "c", "type": "quantitative", "scale": {"domain": [-3.5,109.5], "nice": false, "zero": false}, "axis": {"orient": "left", "values": [10,20,30,40,60,70,80,90], "tickSize": -6, "labels": false, "title": null}},
         "text": {"field": "t"}
       }},
      {"data": {"name": "dashC"}, "mark": {"type": "rule", "strokeWidth": 1.4, "strokeDash": [6, 4]},
       "encoding": {
         "x": {"field": "e", "type": "quantitative", "scale": {"domain": [100,700], "nice": false, "zero": false}, "axis": {"orient": "top", "values": [100,200,300,400,500,600,700], "tickSize": -10, "labels": false, "title": null}},
         "y": {"field": "c", "type": "quantitative", "scale": {"domain": [-3.5,109.5], "nice": false, "zero": false}, "axis": {"orient": "right", "values": [0,50,100], "tickSize": -10, "labels": false, "title": null}},
         "y2": {"field": "c2"}
       }},
      {"data": {"values": [{}]}, "mark": {"type": "text", "align": "right", "baseline": "alphabetic", "font": "Liberation Serif, Times New Roman, serif", "fontSize": 23.5},
       "encoding": {
         "x": {"datum": 674, "type": "quantitative", "scale": {"domain": [100,700], "nice": false, "zero": false}, "axis": {"orient": "top", "values": [150,250,350,450,550,650], "tickSize": -6, "labels": false, "title": null}},
         "y": {"datum": 92.3, "type": "quantitative", "scale": {"domain": [-3.5,109.5], "nice": false, "zero": false}, "axis": {"orient": "right", "values": [10,20,30,40,60,70,80,90], "tickSize": -6, "labels": false, "title": null}},
         "text": {"value": "Early gates (c)"}
       }},
      {"data": {"values": [{}]}, "mark": {"type": "text", "align": "right", "baseline": "alphabetic", "font": "Liberation Serif, Times New Roman, serif", "fontSize": 23.5},
       "encoding": {
         "x": {"datum": 674, "type": "quantitative", "scale": {"domain": [100,700], "nice": false, "zero": false}, "axis": null},
         "y": {"datum": 72.5, "type": "quantitative", "scale": {"domain": [-3.5,109.5], "nice": false, "zero": false}, "axis": null},
         "text": {"value": "189 & 329 keV"}
       }}
    ]
  },
  {
    "width": 508, "height": 211,
    "resolve": {"axis": {"x": "independent", "y": "independent"}},
    "layer": [
      {"data": {"name": "d"}, "mark": {"type": "line", "strokeWidth": 1.1, "clip": true},
       "encoding": {
         "x": {"field": "e", "type": "quantitative", "scale": {"domain": [100,700], "nice": false, "zero": false}, "axis": {"orient": "bottom", "values": [100,200,300,400,500,600,700], "tickSize": -10, "labelPadding": 18, "title": "Energy (keV)", "titleFontSize": 23.5, "titleY": 58, "titleBaseline": "alphabetic"}},
         "y": {"field": "c", "type": "quantitative", "scale": {"domain": [-4,111.5], "nice": false, "zero": false}, "axis": {"orient": "left", "values": [0,50,100], "tickSize": -10, "labelPadding": 19, "title": "Counts", "titleX": -74.5, "titleY": 96, "titleBaseline": "middle"}}
       }},
      {"data": {"name": "labD"}, "mark": {"type": "text", "angle": 270, "align": "left", "baseline": "middle", "font": "Liberation Sans", "fontSize": 13.5},
       "encoding": {
         "x": {"field": "e", "type": "quantitative", "scale": {"domain": [100,700], "nice": false, "zero": false}, "axis": {"orient": "bottom", "values": [150,250,350,450,550,650], "tickSize": -6, "labels": false, "title": null}},
         "y": {"field": "c", "type": "quantitative", "scale": {"domain": [-4,111.5], "nice": false, "zero": false}, "axis": {"orient": "left", "values": [10,20,30,40,60,70,80,90], "tickSize": -6, "labels": false, "title": null}},
         "text": {"field": "t"}
       }},
      {"data": {"values": [{}]}, "mark": {"type": "text", "align": "right", "baseline": "alphabetic", "font": "Liberation Serif, Times New Roman, serif", "fontSize": 23.5},
       "encoding": {
         "x": {"datum": 674, "type": "quantitative", "scale": {"domain": [100,700], "nice": false, "zero": false}, "axis": {"orient": "top", "values": [100,200,300,400,500,600,700], "tickSize": -10, "labels": false, "title": null}},
         "y": {"datum": 88.1, "type": "quantitative", "scale": {"domain": [-4,111.5], "nice": false, "zero": false}, "axis": {"orient": "right", "values": [0,50,100], "tickSize": -10, "labels": false, "title": null}},
         "text": {"value": "Delayed gates (d)"}
       }},
      {"data": {"values": [{}]}, "mark": {"type": "text", "align": "right", "baseline": "alphabetic", "font": "Liberation Serif, Times New Roman, serif", "fontSize": 23.5},
       "encoding": {
         "x": {"datum": 666.3, "type": "quantitative", "scale": {"domain": [100,700], "nice": false, "zero": false}, "axis": {"orient": "top", "values": [150,250,350,450,550,650], "tickSize": -6, "labels": false, "title": null}},
         "y": {"datum": 72.6, "type": "quantitative", "scale": {"domain": [-4,111.5], "nice": false, "zero": false}, "axis": {"orient": "right", "values": [10,20,30,40,60,70,80,90], "tickSize": -6, "labels": false, "title": null}},
         "text": {"value": "207 & 368 keV"}
       }}
    ]
  }
]
}
